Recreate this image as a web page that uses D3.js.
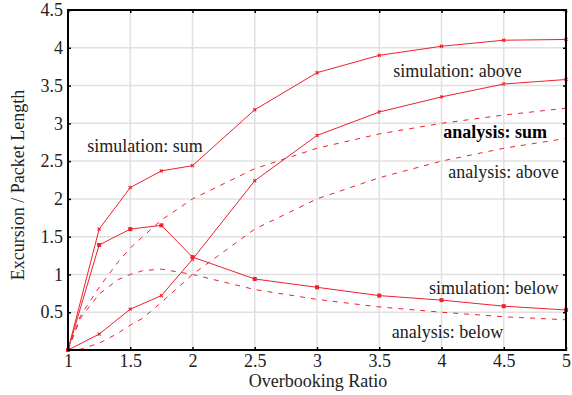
<!DOCTYPE html>
<html><head><meta charset="utf-8">
<script src="https://cdn.jsdelivr.net/npm/d3@7/dist/d3.min.js"></script>
<style>body{margin:0;background:#fff}svg text{font-family:"Liberation Serif","DejaVu Serif",serif;}</style>
</head><body>
<svg id="c" width="572" height="395"></svg>
<script>
const simX = [1, 1.25, 1.5, 1.75, 2, 2.5, 3, 3.5, 4, 4.5, 5];
const simSum   = [0, 1.60, 2.15, 2.37, 2.44, 3.18, 3.67, 3.90, 4.02, 4.10, 4.11];
const simAbove = [0, 0.21, 0.54, 0.72, 1.20, 2.24, 2.84, 3.15, 3.35, 3.52, 3.58];
const simBelow = [0, 1.39, 1.60, 1.65, 1.23, 0.94, 0.83, 0.72, 0.66, 0.58, 0.53];
const anaX = [1, 1.1, 1.25, 1.4, 1.5, 1.6, 1.75, 2, 2.5, 3, 3.5, 4, 4.5, 5];
const anaSum   = [0, 0.45, 0.83, 1.16, 1.35, 1.50, 1.72, 2.0, 2.4, 2.67, 2.86, 3.0, 3.11, 3.2];
const anaAbove = [0, 0.01, 0.09, 0.22, 0.33, 0.42, 0.63, 1.0, 1.6, 2.0, 2.28, 2.5, 2.67, 2.8];
const anaBelow = [0, 0.42, 0.74, 0.93, 1.0, 1.05, 1.07, 1.0, 0.8, 0.67, 0.57, 0.5, 0.44, 0.4];
const xTicks = [1, 1.5, 2, 2.5, 3, 3.5, 4, 4.5, 5];
const yTicks = [0.5, 1, 1.5, 2, 2.5, 3, 3.5, 4, 4.5];
const labels = [
  {t:"simulation: sum", x:1.155, y:2.62, b:false},
  {t:"simulation: above", x:3.613, y:3.607, b:false},
  {t:"analysis: sum", x:4.015, y:2.81, b:true},
  {t:"analysis: above", x:4.055, y:2.27, b:false},
  {t:"simulation: below", x:3.90, y:0.737, b:false},
  {t:"analysis: below", x:3.60, y:0.163, b:false}
];

const svg = d3.select("#c");
const L=68, R=566, T=10, B=350;
const x = d3.scaleLinear().domain([1,5]).range([L,R]);
const y = d3.scaleLinear().domain([0,4.5]).range([B,T]);
const red = "#f0202c";
const FS = 18;

// grid
const g = svg.append("g");
g.selectAll(".gx").data(xTicks).enter().append("line")
  .attr("x1",d=>x(d)).attr("x2",d=>x(d)).attr("y1",T).attr("y2",B)
  .attr("stroke","#e0e0e0").attr("stroke-width",1.5);
g.selectAll(".gy").data(yTicks).enter().append("line")
  .attr("x1",L).attr("x2",R).attr("y1",d=>y(d)).attr("y2",d=>y(d))
  .attr("stroke","#e0e0e0").attr("stroke-width",1.5);

// axes with inward ticks
const axB = svg.append("g").attr("transform",`translate(0,${B})`)
  .call(d3.axisBottom(x).tickValues(xTicks).tickSize(-3).tickPadding(4).tickFormat(d3.format("")));
const axL = svg.append("g").attr("transform",`translate(${L},0)`)
  .call(d3.axisLeft(y).tickValues(yTicks).tickSize(-3).tickPadding(5).tickFormat(d3.format("")));
const axT = svg.append("g").attr("transform",`translate(0,${T})`)
  .call(d3.axisTop(x).tickValues(xTicks).tickSize(-3).tickFormat(""));
const axR = svg.append("g").attr("transform",`translate(${R},0)`)
  .call(d3.axisRight(y).tickValues(yTicks).tickSize(-3).tickFormat(""));
[axB,axL,axT,axR].forEach(a=>{
  a.select(".domain").remove();
  a.selectAll(".tick line").attr("stroke","#000").attr("stroke-width",1.5);
  a.selectAll("text").attr("font-size",FS).attr("fill","#222")
   .style("font-family","'Liberation Serif',serif");
});

// lines
const line = d3.line().x(d=>x(d[0])).y(d=>y(d[1]));
function series(xs, ys, dashed){
  svg.append("path").datum(xs.map((v,i)=>[v,ys[i]]))
    .attr("d",line).attr("fill","none").attr("stroke",red)
    .attr("stroke-width",1).attr("stroke-dasharray",dashed?"5,6":null);
}
series(anaX, anaSum, true);
series(anaX, anaAbove, true);
series(anaX, anaBelow, true);
series(simX, simSum, false);
series(simX, simAbove, false);
series(simX, simBelow, false);

// markers
function crosses(ys){
  svg.append("g").selectAll("path").data(simX.map((v,i)=>[v,ys[i]])).enter().append("path")
    .attr("d",d=>{const cx=x(d[0]),cy=y(d[1]);return `M${cx-1.5},${cy-1.5}L${cx+1.5},${cy+1.5}M${cx-1.5},${cy+1.5}L${cx+1.5},${cy-1.5}`;})
    .attr("stroke",red).attr("stroke-width",1.2);
}
crosses(simSum); crosses(simAbove);
svg.append("g").selectAll("rect").data(simX.map((v,i)=>[v,simBelow[i]])).enter().append("rect")
  .attr("x",d=>x(d[0])-2).attr("y",d=>y(d[1])-2).attr("width",4).attr("height",4).attr("fill",red);

// frame
svg.append("rect").attr("x",L).attr("y",T).attr("width",R-L).attr("height",B-T)
  .attr("fill","none").attr("stroke","#000").attr("stroke-width",2);

// labels
svg.selectAll(".lab").data(labels).enter().append("text")
  .attr("x",d=>x(d.x)).attr("y",d=>y(d.y)).attr("font-size",FS)
  .attr("font-weight",d=>d.b?"bold":"normal").attr("fill",d=>d.b?"#000":"#222").text(d=>d.t);

svg.append("text").attr("x",318).attr("y",387).attr("text-anchor","middle")
  .attr("font-size",FS).attr("fill","#222").text("Overbooking Ratio");
svg.append("text").attr("transform",`translate(24,185) rotate(-90)`).attr("text-anchor","middle")
  .attr("font-size",FS).attr("fill","#222").text("Excursion / Packet Length");
</script>
</body></html>
